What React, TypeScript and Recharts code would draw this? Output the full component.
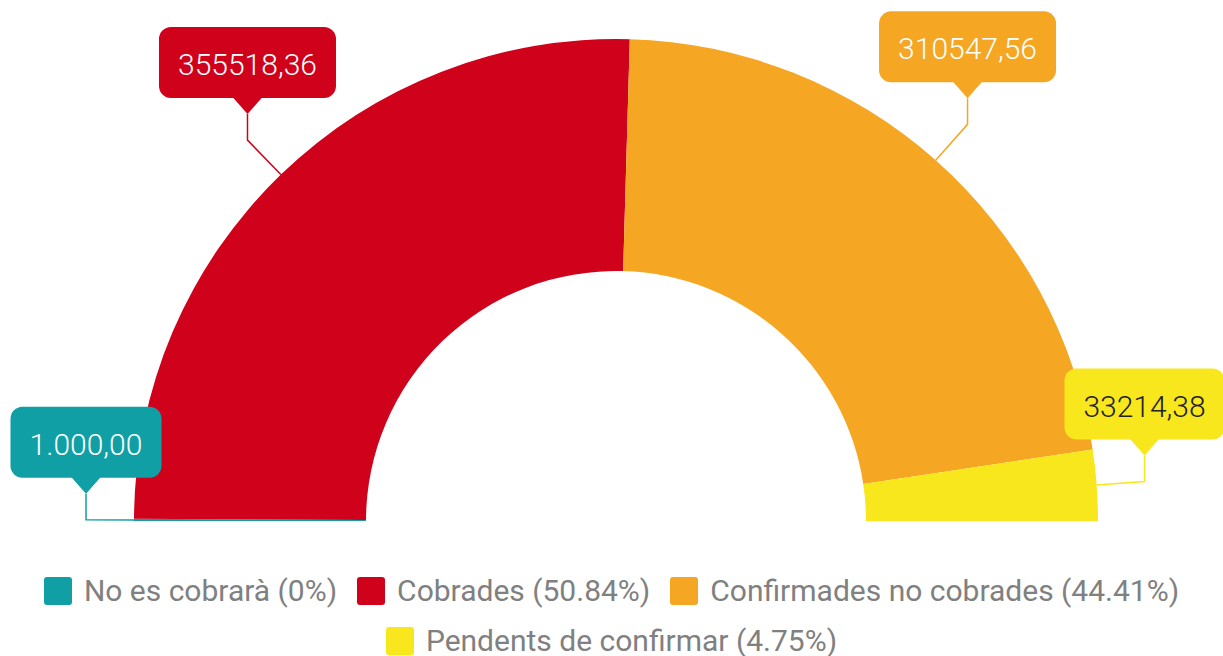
import { PieChart, Pie, Cell, Legend } from "recharts";

const NAMES = ["No es cobrarà", "Cobrades", "Confirmades no cobrades", "Pendents de confirmar"];
const VALUES = [1000, 355518.36, 310547.56, 33214.38];
const LABELS = ["1.000,00", "355518,36", "310547,56", "33214,38"];
const PERCENTS = ["0%", "50.84%", "44.41%", "4.75%"];
const COLORS = ["#109fa5", "#d0011b", "#f5a623", "#f8e71c"];
const TEXT_COLORS = ["#ffffff", "#ffffff", "#ffffff", "#222222"];

const data = NAMES.map((name, i) => ({ name, value: VALUES[i] }));

const RAD = Math.PI / 180;
const FONT = "Roboto, 'Noto Sans', sans-serif";

const textWidth = (s: string, size: number) => {
  let w = 0;
  for (const ch of s) {
    if (ch === ",") w += 0.2;
    else if (ch === ".") w += 0.26;
    else w += 0.5625;
  }
  return w * size;
};

const renderLabel = (props: any) => {
  const { cx, cy, midAngle, outerRadius, index } = props;
  const cos = Math.cos(-midAngle * RAD);
  const sin = Math.sin(-midAngle * RAD);
  const sx = cx + outerRadius * cos;
  const sy = cy + outerRadius * sin;
  const ex = cx + (outerRadius + 48) * cos;
  const ey = cy + (outerRadius + 48) * sin;
  const tipY = ey - 26;
  const boxBottom = tipY - 16;
  const boxH = 71;
  const boxTop = boxBottom - boxH;
  const label = LABELS[index];
  const w = textWidth(label, 30) + 36;
  const color = COLORS[index];
  return (
    <g key={`lbl-${index}`}>
      <polyline
        points={`${sx},${sy} ${ex},${ey} ${ex},${tipY}`}
        fill="none"
        stroke={color}
        strokeWidth={1.5}
      />
      <rect x={ex - w / 2} y={boxTop} width={w} height={boxH} rx={12} ry={12} fill={color} />
      <path d={`M${ex - 15},${boxBottom - 1} L${ex + 15},${boxBottom - 1} L${ex},${tipY} Z`} fill={color} />
      <text
        x={ex}
        y={boxTop + 48}
        textAnchor="middle"
        fill={TEXT_COLORS[index]}
        fontSize={30}
        fontWeight={300}
        fontFamily={FONT}
      >
        {label}
      </text>
    </g>
  );
};

const renderLegend = () => (
  <div
    style={{
      display: "flex",
      flexWrap: "wrap",
      justifyContent: "center",
      columnGap: 20,
      rowGap: 22,
      width: 1223,
      fontFamily: FONT,
      fontSize: 30,
      color: "#808080",
    }}
  >
    {NAMES.map((n, i) => (
      <div key={n} style={{ display: "flex", alignItems: "center", gap: 12, lineHeight: "28px" }}>
        <span style={{ width: 28, height: 28, borderRadius: 3, background: COLORS[i], display: "inline-block" }} />
        <span>{`${n} (${PERCENTS[i]})`}</span>
      </div>
    ))}
  </div>
);

export default function App() {
  return (
    <div style={{ position: "absolute", left: 0, top: 0, width: 1223, height: 656, background: "#fff" }}>
      <PieChart width={1223} height={656} margin={{ top: 0, right: 0, bottom: 0, left: 0 }}>
        <Pie
          data={data}
          dataKey="value"
          nameKey="name"
          cx={616}
          cy={521}
          startAngle={180}
          endAngle={0}
          innerRadius={250}
          outerRadius={482}
          stroke="none"
          label={renderLabel}
          labelLine={false}
          isAnimationActive={false}
        >
          {data.map((d, i) => (
            <Cell key={d.name} fill={COLORS[i]} />
          ))}
        </Pie>
        <Legend content={renderLegend} wrapperStyle={{ top: 577, left: 0, width: 1223 }} />
      </PieChart>
    </div>
  );
}
